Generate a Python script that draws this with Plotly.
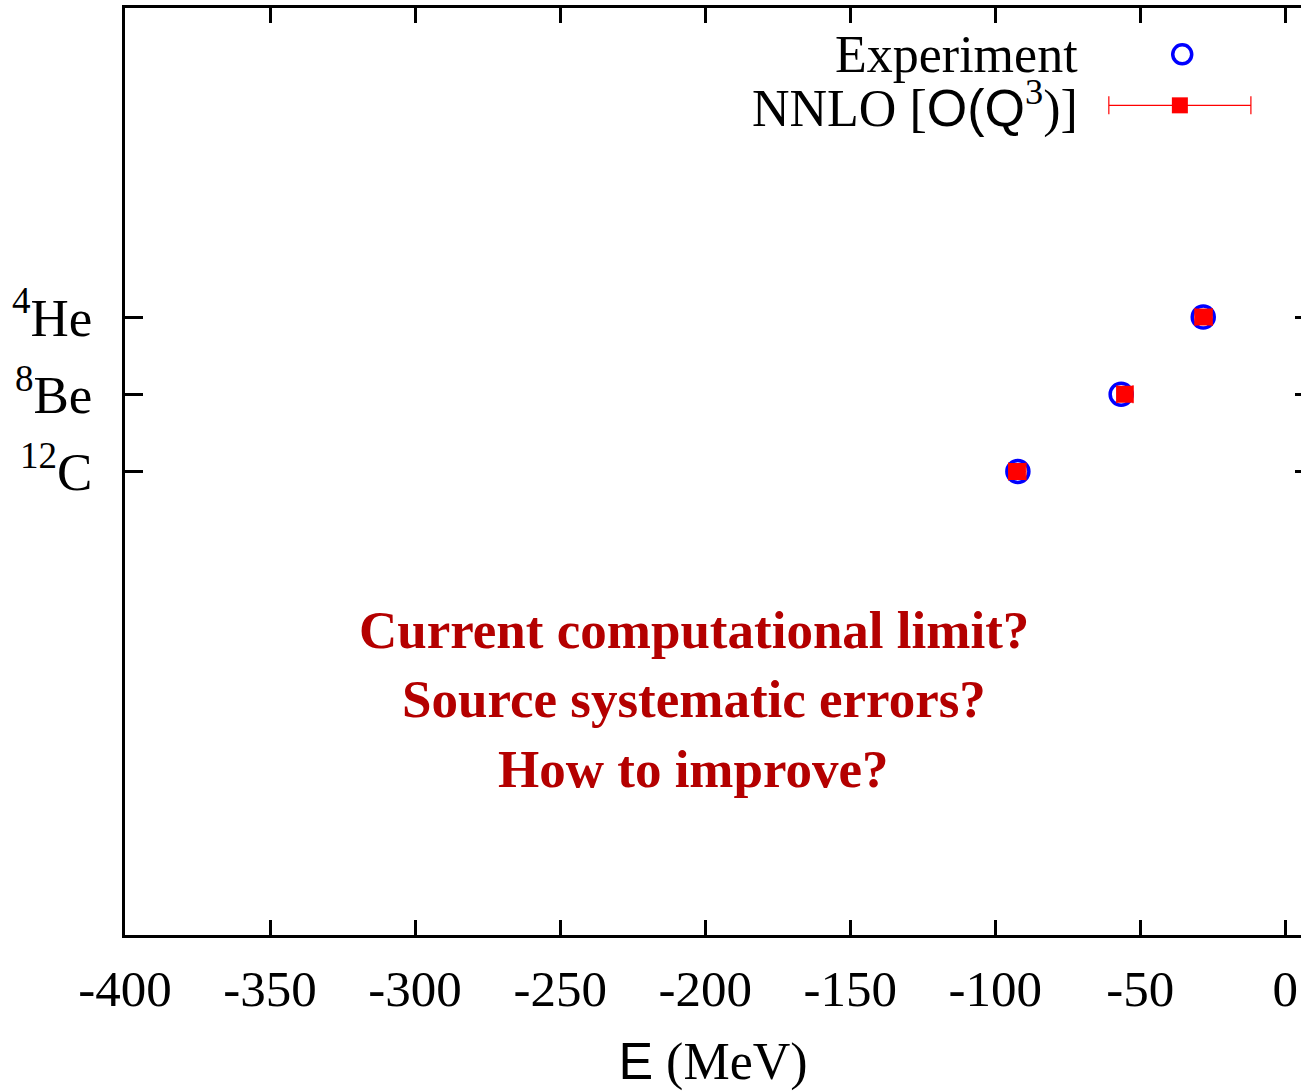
import plotly.graph_objects as go

# ---- data ----
nuclei = ["<sup>12</sup>C", "<sup>8</sup>Be", "<sup>4</sup>He"]
nucleus_pos = [6, 7, 8]
exp_energy = [-92.2, -56.6, -28.3]
nnlo_energy = [-92.4, -55.3, -28.2]
nnlo_err = [3.0, 2.8, 3.0]
x_ticks = [-400, -350, -300, -250, -200, -150, -100, -50, 0]
notes = ["Current computational limit?", "Source systematic errors?", "How to improve?"]
note_y = [3.95, 3.05, 2.15]

SERIF = "Liberation Serif"
SANS = "Liberation Sans"
BLUE = "#0000ff"
RED = "#ff0000"
DARKRED = "#b40000"

fig = go.Figure()

fig.add_trace(go.Scatter(
    x=exp_energy, y=nucleus_pos, mode="markers", name="Experiment",
    marker=dict(symbol="circle-open", size=22, color=BLUE, line=dict(width=3.5, color=BLUE)),
    showlegend=False, cliponaxis=False))

fig.add_trace(go.Scatter(
    x=nnlo_energy, y=nucleus_pos, mode="markers", name="NNLO",
    marker=dict(symbol="square", size=17, color=RED, line=dict(width=0)),
    error_x=dict(type="data", array=nnlo_err, color=RED, thickness=1.2, width=9),
    showlegend=False, cliponaxis=False))

# custom gnuplot-style key (symbols right of text) on an overlay axis in [0,1]
key_x = [0.899, 0.897]
key_y = [0.950, 0.895]
fig.add_trace(go.Scatter(
    x=[key_x[0]], y=[key_y[0]], xaxis="x2", yaxis="y3", mode="markers",
    marker=dict(symbol="circle-open", size=19, color=BLUE, line=dict(width=3.5, color=BLUE)),
    showlegend=False, hoverinfo="skip"))
fig.add_trace(go.Scatter(
    x=[key_x[1]], y=[key_y[1]], xaxis="x2", yaxis="y3", mode="markers",
    marker=dict(symbol="square", size=16, color=RED),
    error_x=dict(type="data", array=[0.0604], color=RED, thickness=1.2, width=9),
    showlegend=False, hoverinfo="skip"))

# right-side ticks only (no right border line)
fig.add_trace(go.Scatter(x=[None], y=[None], yaxis="y2", showlegend=False))

fig.update_layout(
    width=1301, height=1091,
    margin=dict(l=125, r=0, t=8, b=156),
    plot_bgcolor="white", paper_bgcolor="white",
    font=dict(family=SERIF, color="black", size=51),
    xaxis=dict(
        range=[-400, 5.4], tickvals=x_ticks, ticktext=[str(v) for v in x_ticks],
        ticks="inside", ticklen=15, tickwidth=3, tickcolor="black",
        showline=True, linewidth=3, linecolor="black", mirror="ticks",
        showgrid=False, zeroline=False,
        tickfont=dict(family=SERIF, size=51), ticklabelstandoff=7,
        title=dict(text=f'<span style="font-family:{SANS}">E</span> (MeV)',
                   font=dict(family=SERIF, size=52), standoff=27),
    ),
    yaxis=dict(
        range=[0, 12], tickvals=nucleus_pos, ticktext=nuclei,
        ticks="inside", ticklen=18, tickwidth=3, tickcolor="black",
        showline=True, linewidth=3, linecolor="black", mirror=False,
        showgrid=False, zeroline=False,
        tickfont=dict(family=SERIF, size=53), ticklabelstandoff=19,
    ),
    yaxis2=dict(
        range=[0, 12], tickvals=nucleus_pos, overlaying="y", side="right",
        ticks="inside", ticklen=6, tickwidth=3, tickcolor="black",
        showticklabels=False, showline=False, showgrid=False, zeroline=False,
    ),
    xaxis2=dict(range=[0, 1], overlaying="x", visible=False),
    yaxis3=dict(range=[0, 1], overlaying="y", visible=False),
)

key_texts = ["Experiment",
             f'NNLO [<span style="font-family:{SANS}">O(Q</span><sup>3</sup>)]']
for i, t in enumerate(key_texts):
    fig.add_annotation(x=0.812, y=key_y[i], xref="x2", yref="y3", text=t,
                       showarrow=False, xanchor="right", yanchor="middle",
                       font=dict(family=SERIF, size=52, color="black"))

for t, yy in zip(notes, note_y):
    fig.add_annotation(x=-204, y=yy, xref="x", yref="y", text=f"<b>{t}</b>",
                       showarrow=False, xanchor="center", yanchor="middle",
                       font=dict(family=SERIF, size=53, color=DARKRED))

fig.write_html("out.html")
